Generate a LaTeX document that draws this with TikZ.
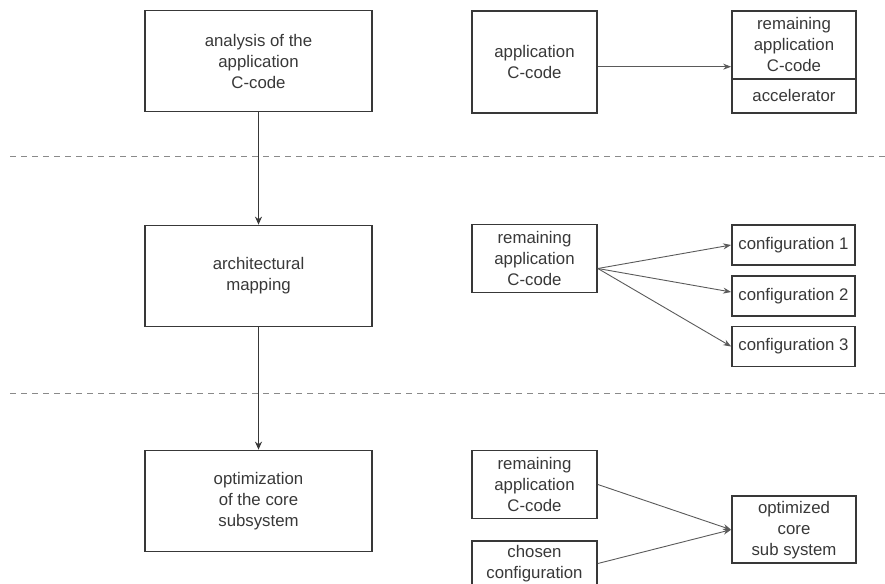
\documentclass[tikz,border=0pt]{standalone}
\usepackage{fontspec}
\setmainfont{Liberation Sans}
\usetikzlibrary{arrows.meta}
\definecolor{boxline}{HTML}{383838}
\definecolor{txt}{HTML}{383838}
\definecolor{thinline}{HTML}{5A5A5A}
\definecolor{dashcol}{HTML}{8A8A8A}
\begin{document}
\begin{tikzpicture}[x=1pt,y=-1pt,
  every node/.style={text=txt,font=\fontsize{16.8}{21}\selectfont,align=center,inner sep=0pt},
  bigbox/.style={draw=boxline,line width=1.7pt,minimum width=227pt,minimum height=101pt},
  smallbox/.style={draw=boxline,line width=1.7pt,minimum width=125pt},
  mainarrow/.style={draw=boxline,line width=1.6pt,-{Stealth[length=8pt,width=7pt]}},
  sidearrow/.style={draw=thinline,line width=0.9pt,-{Stealth[length=8pt,width=6pt]}},
  sepline/.style={draw=dashcol,line width=1pt,dash pattern=on 6pt off 5pt}]
\useasboundingbox (0,0) rectangle (885,583);
\clip (0,0) rectangle (885,583);
% left column
\node[bigbox] (ana) at (258.5,61) {analysis of the\\application\\C-code};
\node[bigbox] (arch) at (258.5,276) {architectural\\mapping};
\node[bigbox] (opt) at (258.5,501) {optimization\\of the core\\subsystem};
% separators
\coordinate (s1a) at (10,156); \coordinate (s1b) at (885,156);
\coordinate (s2a) at (10,393); \coordinate (s2b) at (885,393);
\draw[sepline] (s1a) -- (s1b);
\draw[sepline] (s2a) -- (s2b);
\draw[mainarrow] (ana.south) -- (arch.north);
\draw[mainarrow] (arch.south) -- (opt.north);
% top right
\node[smallbox,minimum height=102pt] (app) at (534.5,61.7) {application\\C-code};
\node[smallbox,minimum width=124pt,minimum height=68pt] (remtop) at (794,44.7) {remaining\\application\\C-code};
\node[smallbox,minimum width=124pt,minimum height=34pt] (accel) at (794,95.7) {accelerator};
\draw[sidearrow] ([yshift=-5pt]app.east) -- ([yshift=-5pt]app.east -| remtop.west);
% middle right
\node[smallbox,minimum height=68pt] (rem2) at (534.5,258.5) {remaining\\application\\C-code};
\node[smallbox,minimum width=123pt,minimum height=40pt] (cfg1) at (793.5,245) {configuration 1};
\node[smallbox,minimum width=123pt,minimum height=40pt] (cfg2) at (793.5,296) {configuration 2};
\node[smallbox,minimum width=123pt,minimum height=40pt] (cfg3) at (793.5,346.5) {configuration 3};
\coordinate (r2out) at ([yshift=-10pt]rem2.east);
\draw[sidearrow] (r2out) -- (cfg1.west);
\draw[sidearrow] (r2out) -- ([yshift=4pt]cfg2.west);
\draw[sidearrow] (r2out) -- (cfg3.west);
% bottom right
\node[smallbox,minimum height=68pt] (rem3) at (534.5,484.5) {remaining\\application\\C-code};
\node[smallbox,minimum height=45pt] (chosen) at (534.5,563.5) {chosen\\configuration};
\node[smallbox,minimum width=124pt,minimum height=67pt] (core) at (794,529.7) {optimized\\core\\sub system};
\draw[sidearrow] (rem3.east) -- (core.west);
\draw[sidearrow] (chosen.east) -- (core.west);
\end{tikzpicture}
\end{document}
